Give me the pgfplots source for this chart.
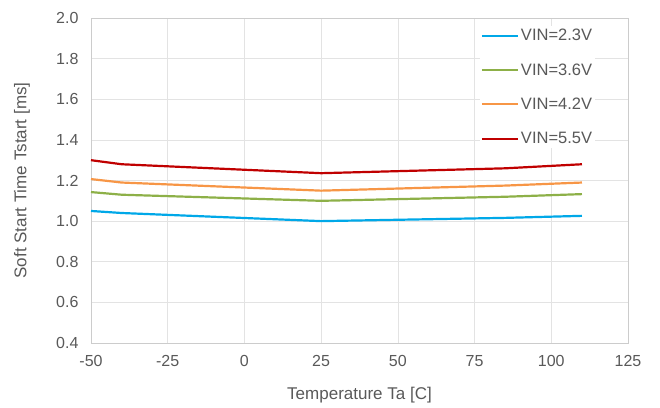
\documentclass[border=0pt]{standalone}
\usepackage{pgfplots}
\pgfplotsset{compat=1.18}
\usepackage{fontspec}
\setmainfont{Liberation Sans}
\definecolor{cblue}{HTML}{00A8E8}
\definecolor{cgreen}{HTML}{8DB048}
\definecolor{corange}{HTML}{F79646}
\definecolor{cred}{HTML}{C00000}
\definecolor{ctxt}{HTML}{595959}
\begin{document}
\begin{tikzpicture}
\begin{axis}[
  scale only axis,
  width=537pt, height=325pt,
  xmin=-50, xmax=125, ymin=0.4, ymax=2.0,
  xtick={-50,-25,0,25,50,75,100,125},
  ytick={0.4,0.6,...,2.0},
  yticklabel style={/pgf/number format/fixed, /pgf/number format/fixed zerofill, /pgf/number format/precision=1},
  /pgf/number format/assume math mode=true,
  grid=major,
  major grid style={draw=gray!22, line width=0.6pt},
  axis line style={draw=gray!40, line width=0.8pt},
  tick style={draw=none},
  ticklabel style={font=\fontsize{16}{19}\selectfont, text=ctxt},
  xticklabel style={yshift=-9pt},
  yticklabel style={xshift=-9pt},
  xlabel={Temperature Ta [C]},
  ylabel={Soft Start Time Tstart [ms]},
  label style={font=\fontsize{17}{20}\selectfont, text=ctxt},
  xlabel style={at={(axis description cs:0.5,0)}, anchor=center, yshift=-52pt},
  ylabel style={at={(axis description cs:0,0.5)}, anchor=center, yshift=69pt},
  legend style={at={(0.724,0.975)}, anchor=north west, draw=none, fill=white,
    font=\fontsize{16.5}{19}\selectfont, text=ctxt, row sep=17.3pt,
    inner sep=1pt},
  legend cell align=left,
  legend image code/.code={\draw[#1, line width=2pt] (0pt,0pt) -- (36pt,0pt);},
  every axis plot/.append style={line width=2.2pt},
]
\addplot[cblue] coordinates {(-50,1.05) (-40,1.04) (25,1.00) (85,1.016) (110,1.026)};
\addlegendentry{VIN=2.3V}
\addplot[cgreen] coordinates {(-50,1.143) (-40,1.13) (25,1.10) (85,1.12) (110,1.133)};
\addlegendentry{VIN=3.6V}
\addplot[corange] coordinates {(-50,1.207) (-40,1.19) (25,1.15) (85,1.175) (110,1.19)};
\addlegendentry{VIN=4.2V}
\addplot[cred] coordinates {(-50,1.30) (-40,1.28) (25,1.236) (85,1.26) (110,1.28)};
\addlegendentry{VIN=5.5V}
\end{axis}
\pgfresetboundingbox
\useasboundingbox ([xshift=-91pt,yshift=-64pt]current axis.south west) rectangle ([xshift=32pt,yshift=18pt]current axis.north east);
\end{tikzpicture}
\end{document}
